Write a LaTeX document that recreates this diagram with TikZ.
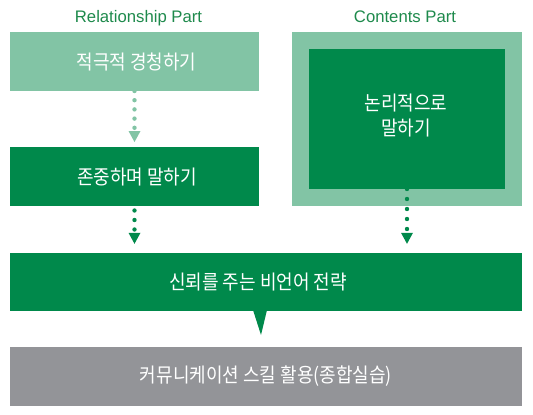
\documentclass[tikz,border=0pt]{standalone}
\usepackage{fontspec}
\setmainfont{Liberation Sans}
\newfontfamily\krfont[FakeStretch=0.9]{Noto Sans CJK KR}
\usetikzlibrary{arrows.meta,calc}
\definecolor{dkg}{HTML}{00894B}
\definecolor{ltg}{HTML}{82C4A5}
\definecolor{gry}{HTML}{939498}
\definecolor{ttl}{HTML}{1E8A4C}
\begin{document}
\begin{tikzpicture}[x=1pt,y=-1pt,
  box/.style={draw=none,inner sep=0pt,outer sep=0pt,anchor=north west},
  krt/.style={text=white,inner sep=0pt,align=center,font=\krfont\fontsize{20}{25}\selectfont},
  ttltext/.style={text=ttl,inner sep=0pt,anchor=base,font=\fontsize{16.7}{20}\selectfont},
  tipstyle/.style={-{Triangle[width=12pt 0 0,length=11pt 0 0,line width=0pt 0 0]}},
  dotsline/.style={line width=4.4pt,line cap=round,tipstyle}
]
\useasboundingbox[fill=white] (0,0) rectangle (533,415);
% titles
\node[ttltext] (t1) at (138.5,22.3) {Relationship Part};
\node[ttltext] (t2) at (405,22.3) {Contents Part};
% boxes
\node[box,fill=ltg,minimum width=249pt,minimum height=59pt] (b1) at (10,32) {};
\node[box,fill=dkg,minimum width=249pt,minimum height=58.5pt] (b2) at (10,147) {};
\node[box,fill=ltg,minimum width=230pt,minimum height=174pt] (out) at (292,32) {};
\node[box,fill=dkg,minimum width=196pt,minimum height=140pt] (inn) at (309,49) {};
\node[box,fill=dkg,minimum width=512pt,minimum height=58.5pt] (b3) at (10,252.5) {};
\node[box,fill=gry,minimum width=512pt,minimum height=59pt] (b4) at (10,347) {};
% callout tail
\fill[dkg] ($(b3.south)+(-13,-1)$) -- ($(b3.south)+(1,-1)$) -- ($(b3.south)+(-5,24)$) -- cycle;
% texts
\node[krt] (l1) at ([xshift=2pt]b1.center) {적극적 경청하기};
\node[krt] (l2) at ([xshift=2.5pt,yshift=-1pt]b2.center) {존중하며 말하기};
\node[krt] (l3) at ([xshift=-1pt,yshift=3.5pt]inn.center) {논리적으로\\말하기};
\node[krt] (l4) at ([xshift=-8pt]b3.center) {신뢰를 주는 비언어 전략};
\node[krt] (l5) at (b4.center) {커뮤니케이션 스킬 활용(종합실습)};
% dotted connectors
\draw[dotsline,ltg,dash pattern=on 0pt off 9.2pt,shorten >=5pt] (b1.south) -- (b2.north);
\draw[dotsline,dkg,dash pattern=on 0pt off 9.5pt,dash phase=4.5pt,shorten >=8.7pt] (b2.south) -- (b2.south |- b3.north);
\draw[dotsline,dkg,dash pattern=on 0pt off 10pt,shorten >=8.7pt] (inn.south) -- (inn.south |- b3.north);
\end{tikzpicture}
\end{document}
